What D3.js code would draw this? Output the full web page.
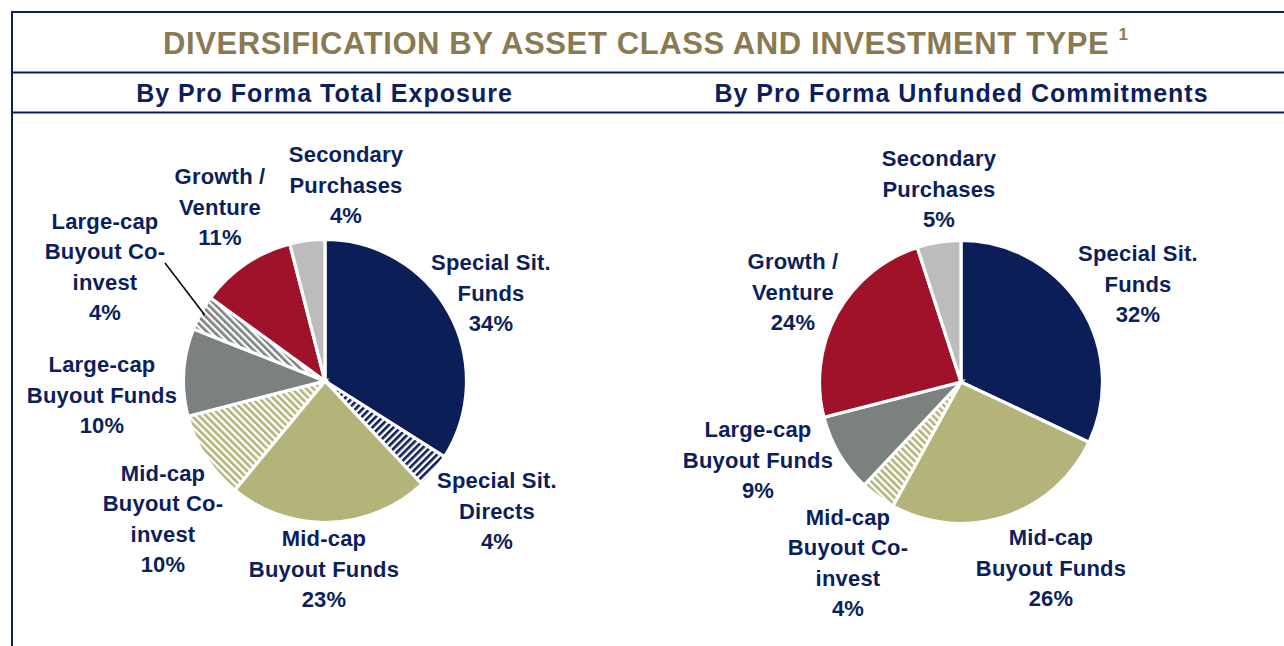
<!DOCTYPE html>
<html>
<head>
<meta charset="utf-8">
<script src="https://cdn.jsdelivr.net/npm/d3@7"></script>
<style>
  html, body { margin: 0; padding: 0; background: #ffffff; }
  svg { display: block; }
  text { font-family: "Liberation Sans", Arial, sans-serif; font-weight: bold; }
</style>
</head>
<body>
<svg id="chart" width="1284" height="646"></svg>
<script>
// ---------- DATA ----------
const chartTitle = "DIVERSIFICATION BY ASSET CLASS AND INVESTMENT TYPE";
const titleNote = "1";
const subtitles = ["By Pro Forma Total Exposure", "By Pro Forma Unfunded Commitments"];

const exposureCategories = ["Special Sit. Funds", "Special Sit. Directs", "Mid-cap Buyout Funds", "Mid-cap Buyout Co-invest",
  "Large-cap Buyout Funds", "Large-cap Buyout Co-invest", "Growth / Venture", "Secondary Purchases"];
const exposureValues = [34, 4, 23, 10, 10, 4, 11, 4];

const unfundedCategories = ["Special Sit. Funds", "Mid-cap Buyout Funds", "Mid-cap Buyout Co-invest",
  "Large-cap Buyout Funds", "Growth / Venture", "Secondary Purchases"];
const unfundedValues = [32, 26, 4, 9, 24, 5];

// label text broken into lines (text only)
const exposureLabelLines = [["Special Sit.", "Funds"], ["Special Sit.", "Directs"], ["Mid-cap", "Buyout Funds"],
  ["Mid-cap", "Buyout Co-", "invest"], ["Large-cap", "Buyout Funds"], ["Large-cap", "Buyout Co-", "invest"],
  ["Growth /", "Venture"], ["Secondary", "Purchases"]];
const unfundedLabelLines = [["Special Sit.", "Funds"], ["Mid-cap", "Buyout Funds"], ["Mid-cap", "Buyout Co-", "invest"],
  ["Large-cap", "Buyout Funds"], ["Growth /", "Venture"], ["Secondary", "Purchases"]];

// ---------- STYLES / LAYOUT ----------
const textNavy = "#0c1f5c";
const gold = "#8a7a52";
const fillStyles = {
  "Special Sit. Funds": { color: "#0b1e58" },
  "Special Sit. Directs": { color: "#0b1e58", hatch: "hatchNavy" },
  "Mid-cap Buyout Funds": { color: "#b3b37a" },
  "Mid-cap Buyout Co-invest": { color: "#b3b37a", hatch: "hatchKhaki" },
  "Large-cap Buyout Funds": { color: "#7a817f" },
  "Large-cap Buyout Co-invest": { color: "#7a817f", hatch: "hatchGray" },
  "Growth / Venture": { color: "#a0122a" },
  "Secondary Purchases": { color: "#bcbcbc" }
};
// label block centres relative to pie centre
const exposureLabelOffsets = [[166, -88], [172, 130], [-1, 188], [-162, 138], [-223, 14], [-220, -114], [-105, -174], [21, -196]];
const unfundedLabelOffsets = [[177, -98], [90, 186], [-113, 181], [-203, 78], [-168, -90], [-22, -193]];

const W = 1284, H = 646;
const svg = d3.select("#chart");
const defs = svg.append("defs");

function makeHatch(id, color, angle) {
  const p = defs.append("pattern")
    .attr("id", id).attr("patternUnits", "userSpaceOnUse")
    .attr("width", 5).attr("height", 5)
    .attr("patternTransform", `rotate(${angle})`);
  p.append("rect").attr("width", 5).attr("height", 5).attr("fill", "#ffffff");
  p.append("rect").attr("x", 0).attr("y", 0).attr("width", 2.6).attr("height", 5).attr("fill", color);
}
makeHatch("hatchNavy", "#0b1e58", 45);
makeHatch("hatchKhaki", "#b3b37a", -45);
makeHatch("hatchGray", "#7a817f", -45);

// ---------- FRAME ----------
const frameColor = "#0b1e58";
svg.append("line").attr("x1", 12).attr("x2", 12).attr("y1", 11).attr("y2", H).attr("stroke", frameColor).attr("stroke-width", 2);
[12, 72.5, 112.5].forEach(y => {
  svg.append("line").attr("x1", 11).attr("x2", W).attr("y1", y).attr("y2", y).attr("stroke", frameColor).attr("stroke-width", 2);
});

// ---------- TITLE ----------
const title = svg.append("text").attr("x", 163).attr("y", 54).attr("text-anchor", "start")
  .attr("fill", gold).attr("font-size", 31).attr("letter-spacing", 0.6);
title.append("tspan").text(chartTitle);
title.append("tspan").text(" ");
title.append("tspan").attr("font-size", 17).attr("dy", -14).text(titleNote);

const subX = [324.5, 961.5];
subtitles.forEach((s, i) => {
  svg.append("text").attr("x", subX[i]).attr("y", 102).attr("text-anchor", "middle")
    .attr("fill", textNavy).attr("font-size", 25).attr("letter-spacing", 1.0).text(s);
});

// ---------- PIES ----------
const radius = 141.5;
const pie = d3.pie().sort(null).value(d => d.value).startAngle(0).endAngle(2 * Math.PI);
const arc = d3.arc().innerRadius(0).outerRadius(radius);

function drawPie(cx, cy, categories, values, lines, offsets) {
  const data = categories.map((c, i) => ({ category: c, value: values[i], lines: lines[i], offset: offsets[i] }));
  const g = svg.append("g").attr("transform", `translate(${cx},${cy})`);
  const arcs = pie(data);
  g.selectAll("path.slice").data(arcs).join("path")
    .attr("class", "slice")
    .attr("d", arc)
    .attr("fill", d => {
      const st = fillStyles[d.data.category];
      return st.hatch ? `url(#${st.hatch})` : st.color;
    })
    .attr("stroke", "#ffffff")
    .attr("stroke-width", 3.2)
    .attr("stroke-linejoin", "miter");

  const lineH = 30.5;
  const lab = g.selectAll("text.lbl").data(arcs).join("text")
    .attr("class", "lbl")
    .attr("text-anchor", "middle")
    .attr("fill", textNavy)
    .attr("font-size", 22)
    .attr("letter-spacing", 0.2);
  lab.each(function (d) {
    const all = d.data.lines.concat([d.data.value + "%"]);
    const n = all.length;
    const t = d3.select(this);
    all.forEach((ln, k) => {
      t.append("tspan")
        .attr("x", d.data.offset[0])
        .attr("y", d.data.offset[1] + (k - (n - 1) / 2) * lineH + 7.5)
        .text(ln);
    });
  });
  return { g, arcs };
}

const p1 = drawPie(325, 381, exposureCategories, exposureValues, exposureLabelLines, exposureLabelOffsets);
drawPie(961, 382, unfundedCategories, unfundedValues, unfundedLabelLines, unfundedLabelOffsets);

// leader line for Large-cap Buyout Co-invest
const lc = p1.arcs.find(a => a.data.category === "Large-cap Buyout Co-invest");
const mid = (lc.startAngle + lc.endAngle) / 2;
const endPt = [Math.sin(mid) * (radius - 4), -Math.cos(mid) * (radius - 4)];
p1.g.append("line")
  .attr("x1", -160).attr("y1", -118)
  .attr("x2", endPt[0]).attr("y2", endPt[1])
  .attr("stroke", "#000000").attr("stroke-width", 1.5);
</script>
</body>
</html>
